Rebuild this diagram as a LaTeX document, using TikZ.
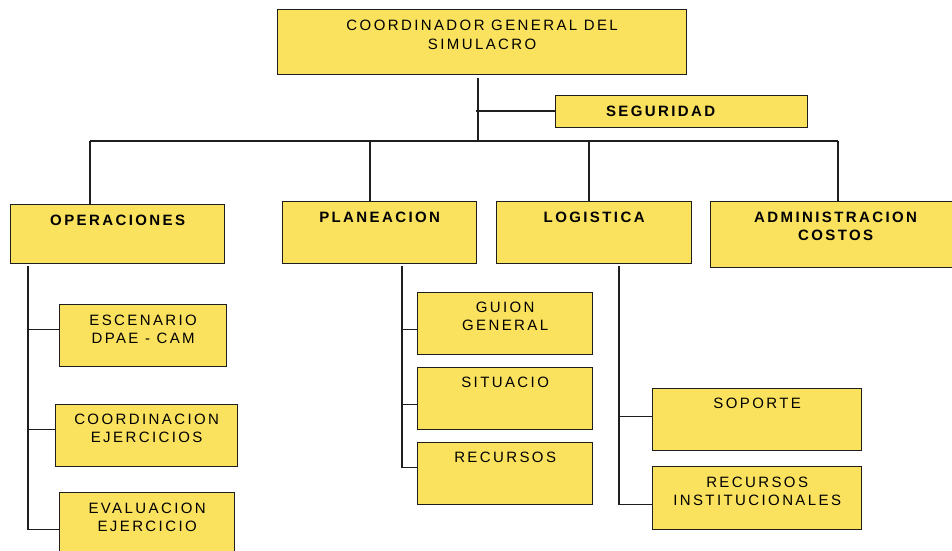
\documentclass[tikz,border=0pt]{standalone}
\usepackage{fontspec}
\setmainfont{Liberation Sans}
\newfontfamily\orgfont{Liberation Sans}[LetterSpace=16]
\usetikzlibrary{positioning}
\definecolor{orgyellow}{RGB}{250,225,94}
\definecolor{orgline}{RGB}{30,30,30}

\tikzset{
  box/.style={draw=orgline, line width=1.3pt, fill=orgyellow, inner sep=0pt, anchor=north west},
  boxtext/.style={anchor=north, align=center, inner sep=0pt, font={\orgfont\fontsize{15}{18.3}\selectfont}},
  boldtext/.style={boxtext, font={\orgfont\bfseries\fontsize{15}{18.3}\selectfont}},
  link/.style={draw=orgline, line width=1.3pt}
}

\begin{document}
\begin{tikzpicture}[x=1pt, y=-1pt]
        \useasboundingbox (0,0) rectangle (952,550);
        \clip (0,0) rectangle (952,550);

        % boxes
        \node[box, minimum width=409, minimum height=65] (coord) at (277,9) {};
        \node[box, minimum width=252, minimum height=32] (segur) at (555,95) {};
        \node[box, minimum width=214, minimum height=59] (ops) at (10,204) {};
        \node[box, minimum width=194, minimum height=62] (plan) at (282,201) {};
        \node[box, minimum width=195, minimum height=62] (logi) at (496,201) {};
        \node[box, minimum width=250, minimum height=66] (admin) at (710,201) {};
        \node[box, minimum width=167, minimum height=62] (escen) at (59,304) {};
        \node[box, minimum width=182, minimum height=62] (coordin) at (55,404) {};
        \node[box, minimum width=175, minimum height=62] (evalu) at (59,492) {};
        \node[box, minimum width=175, minimum height=62] (guion) at (417,292) {};
        \node[box, minimum width=175, minimum height=62] (situ) at (417,367) {};
        \node[box, minimum width=175, minimum height=62] (recur) at (417,442) {};
        \node[box, minimum width=209, minimum height=62] (sopor) at (652,388) {};
        \node[box, minimum width=209, minimum height=63] (recinst) at (652,466) {};

        % texts
        \node[boxtext] (coordtxt) at ([yshift=-10.5]coord.north) {COORDINADOR GENERAL DEL\\[1.5pt]SIMULACRO};
        \node[boldtext] (segurtxt) at ([xshift=-21, yshift=-11]segur.north) {SEGURIDAD};
        \node[boldtext] (opstxt) at ([yshift=-11]ops.north) {OPERACIONES};
        \node[boldtext] (plantxt) at ([yshift=-11]plan.north) {PLANEACION};
        \node[boldtext] (logitxt) at ([yshift=-11]logi.north) {LOGISTICA};
        \node[boldtext] (admintxt) at ([yshift=-11]admin.north) {ADMINISTRACION\\COSTOS};
        \node[boxtext] (escentxt) at ([yshift=-11]escen.north) {ESCENARIO\\DPAE - CAM};
        \node[boxtext] (coordintxt) at ([yshift=-10]coordin.north) {COORDINACION\\EJERCICIOS};
        \node[boxtext] (evalutxt) at ([yshift=-11]evalu.north) {EVALUACION\\EJERCICIO};
        \node[boxtext] (guiontxt) at ([yshift=-10]guion.north) {GUION\\GENERAL};
        \node[boxtext] (situtxt) at ([yshift=-10]situ.north) {SITUACIO};
        \node[boxtext] (recurtxt) at ([yshift=-10]recur.north) {RECURSOS};
        \node[boxtext] (soportxt) at ([yshift=-10]sopor.north) {SOPORTE};
        \node[boxtext] (recinsttxt) at ([yshift=-11]recinst.north) {RECURSOS\\INSTITUCIONALES};

        % connectors
        \coordinate (coordbot) at (478,78);
        \coordinate (segjoin) at (476,111);
        \coordinate (busL) at (90,141);
        \coordinate (busM) at (478,141);
        \coordinate (busR) at (838,141);
        \coordinate (dropP) at (370,141);
        \coordinate (dropL) at (589,141);
        \coordinate (opsT) at (28,266);
        \coordinate (planT) at (402,266);
        \coordinate (logT) at (619,266);

        \draw[link] (coordbot) -- (busM);
        \draw[link] (segjoin) -- (segjoin -| segur.west);
        \draw[link] (busL) -- (busR);
        \draw[link] (busL) -- (busL |- ops.north);
        \draw[link] (dropP) -- (dropP |- plan.north);
        \draw[link] (dropL) -- (dropL |- logi.north);
        \draw[link] (busR) -- (busR |- admin.north);

        \draw[link] ([yshift=6]escen.west) -| (opsT);
        \draw[link] ([yshift=6]coordin.west) -| (opsT);
        \draw[link] ([yshift=-6]evalu.west) -| (opsT);
        \draw[link] ([yshift=-6]guion.west) -| (planT);
        \draw[link] ([yshift=-6]situ.west) -| (planT);
        \draw[link] ([yshift=6]recur.west) -| (planT);
        \draw[link] ([yshift=3]sopor.west) -| (logT);
        \draw[link] ([yshift=-6.5]recinst.west) -| (logT);
    
    \end{tikzpicture}
\end{document}
